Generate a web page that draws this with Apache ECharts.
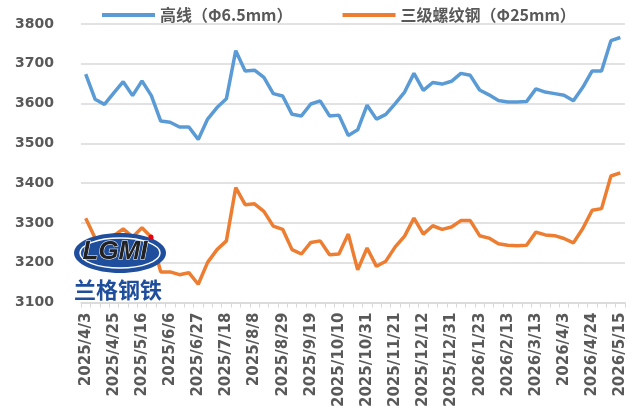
<!DOCTYPE html>
<html>
<head>
<meta charset="utf-8">
<script src="https://cdn.jsdelivr.net/npm/echarts@6/dist/echarts.min.js"></script>
<style>
  html, body { margin: 0; padding: 0; background: #fff; }
  #chart { width: 635px; height: 410px; }
</style>
</head>
<body>
<div id="chart"></div>
<script>
  // weekly price dates
  var dates = [
    '2025/4/3', '2025/4/11', '2025/4/18', '2025/4/25', '2025/5/2', '2025/5/9', '2025/5/16',
    '2025/5/23', '2025/5/30', '2025/6/6', '2025/6/13', '2025/6/20', '2025/6/27', '2025/7/4',
    '2025/7/11', '2025/7/18', '2025/7/25', '2025/8/1', '2025/8/8', '2025/8/15', '2025/8/22',
    '2025/8/29', '2025/9/5', '2025/9/12', '2025/9/19', '2025/9/26', '2025/9/30', '2025/10/10',
    '2025/10/17', '2025/10/24', '2025/10/31', '2025/11/7', '2025/11/14', '2025/11/21', '2025/11/28',
    '2025/12/5', '2025/12/12', '2025/12/19', '2025/12/26', '2025/12/31', '2026/1/9', '2026/1/16',
    '2026/1/23', '2026/1/30', '2026/2/6', '2026/2/13', '2026/2/27', '2026/3/6', '2026/3/13',
    '2026/3/20', '2026/3/27', '2026/4/3', '2026/4/10', '2026/4/17', '2026/4/24', '2026/4/30',
    '2026/5/8', '2026/5/15'
  ];
  var wireRod = [
    3674, 3611, 3598, 3627, 3655, 3620, 3657, 3620, 3556, 3553,
    3541, 3541, 3510, 3561, 3590, 3612, 3733, 3682, 3684, 3666,
    3625, 3619, 3573, 3569, 3599, 3607, 3569, 3571, 3520, 3534,
    3596, 3561, 3573, 3600, 3629, 3676, 3633, 3653, 3649, 3656,
    3676, 3671, 3634, 3622, 3608, 3604, 3604, 3605, 3637, 3629,
    3625, 3621, 3607, 3641, 3682, 3682, 3758, 3766
  ];
  var rebar = [
    3312, 3262, 3250, 3268, 3285, 3265, 3288, 3264, 3177, 3177,
    3170, 3175, 3146, 3201, 3233, 3255, 3389, 3346, 3348, 3329,
    3292, 3284, 3233, 3222, 3251, 3255, 3220, 3222, 3272, 3182,
    3237, 3191, 3204, 3240, 3267, 3312, 3272, 3293, 3284, 3290,
    3306, 3306, 3268, 3262, 3248, 3244, 3243, 3244, 3277, 3270,
    3268, 3261, 3250, 3286, 3332, 3336, 3418, 3426
  ];
  var seriesNames = ['高线（Φ6.5mm）', '三级螺纹钢（Φ25mm）'];

  var myChart = echarts.init(document.getElementById('chart'));
  var option = {
    animation: false,
    color: ['#5b9bd5', '#ed7d31'],
    legend: {
      top: 2,
      left: 97,
      icon: 'rect',
      itemWidth: 53,
      itemHeight: 4,
      itemGap: 50,
      textStyle: {
        color: '#595959',
        fontSize: 16,
        fontWeight: 'bold',
        fontFamily: 'Noto Sans CJK SC'
      }
    },
    grid: {
      left: 81,
      right: 10,
      top: 24,
      bottom: 102
    },
    xAxis: {
      type: 'category',
      data: dates,
      boundaryGap: true,
      axisLine: {lineStyle: {color: '#d9d9d9', width: 1.5}},
      axisTick: {show: true, interval: 0, length: 5, lineStyle: {color: '#d9d9d9'}},
      axisLabel: {
        interval: 2,
        rotate: 90,
        margin: 10,
        color: '#595959',
        fontSize: 15,
        fontWeight: 'bold',
        fontFamily: 'DejaVu Sans'
      }
    },
    yAxis: {
      type: 'value',
      min: 3100,
      max: 3800,
      interval: 100,
      axisLine: {show: false},
      axisTick: {show: false},
      splitLine: {lineStyle: {color: '#d9d9d9', width: 1.5}},
      axisLabel: {
        margin: 27,
        color: '#595959',
        fontSize: 14,
        fontWeight: 'bold',
        fontFamily: 'DejaVu Sans',
        formatter: function (v) {
          return String(v);
        }
      }
    },
    graphic: [
      {
        type: 'ellipse',
        z: 100,
        shape: {cx: 120, cy: 253, rx: 46, ry: 20},
        style: {fill: '#1f4e9c'}
      },
      {
        type: 'ellipse',
        z: 101,
        shape: {cx: 120, cy: 253, rx: 40, ry: 15},
        style: {fill: 'none', stroke: '#ffffff', lineWidth: 1.5}
      },
      {
        type: 'text',
        z: 102,
        left: 82,
        top: 238,
        style: {
          text: 'LGMI',
          fill: '#222222',
          stroke: '#ffffff',
          lineWidth: 1,
          font: 'italic bold 26px "Liberation Sans"'
        }
      },
      {
        type: 'circle',
        z: 103,
        shape: {cx: 151, cy: 237, r: 2.5},
        style: {fill: '#e60012'}
      },
      {
        type: 'text',
        z: 102,
        left: 74,
        top: 279,
        style: {
          text: '兰格钢铁',
          fill: '#1f4e9c',
          font: 'bold 22px "Noto Sans CJK SC"'
        }
      }
    ],
    series: [
      {
        name: seriesNames[0],
        type: 'line',
        data: wireRod,
        showSymbol: false,
        lineStyle: {width: 3.5}
      },
      {
        name: seriesNames[1],
        type: 'line',
        data: rebar,
        showSymbol: false,
        lineStyle: {width: 3.5}
      }
    ]
  };
  myChart.setOption(option);
</script>
</body>
</html>
